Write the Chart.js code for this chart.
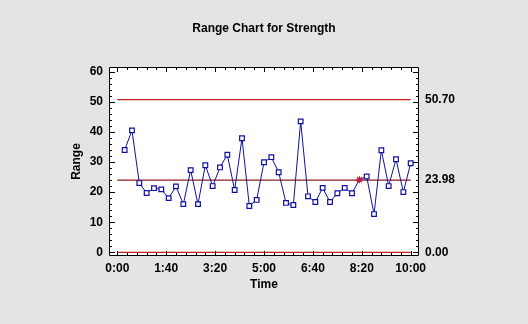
<!DOCTYPE html>
<html>
<head>
<meta charset="utf-8">
<script src="https://cdn.jsdelivr.net/npm/chart.js@4/dist/chart.umd.min.js"></script>
<style>
    html, body { margin: 0; padding: 0; background: #e4e4e4; }
    #wrap { width: 528px; height: 324px; }
</style>
</head>
<body>
<div id="wrap"><canvas id="rangeChart" width="528" height="324"></canvas></div>
<script>
// Sample times, in minutes after start
var times = [15, 30, 45, 60, 75, 90, 105, 120, 135, 150,
             165, 180, 195, 210, 225, 240, 255, 270, 285, 300,
             315, 330, 345, 360, 375, 390, 405, 420, 435, 450,
             465, 480, 495, 510, 525, 540, 555, 570, 585, 600];

// Subgroup ranges
var ranges = [34.0, 40.5, 23.0, 19.7, 21.3, 20.9, 18.0, 21.9, 16.0, 27.3,
              16.0, 28.9, 22.0, 28.2, 32.4, 20.7, 37.9, 15.4, 17.4, 29.9,
              31.6, 26.6, 16.4, 15.7, 43.5, 18.6, 16.7, 21.4, 16.7, 19.6,
              21.4, 19.6, 24.1, 25.2, 12.7, 33.9, 22.0, 30.9, 20.0, 29.6];

// Points flagged with a star marker (0-based index)
var flaggedPoints = [32];

// Control limits
var ucl = 50.70;
var centerLine = 23.98;
var lcl = 0.00;
var limitStart = 0;
var limitEnd = 600;

// Axis ticks
var xTicks = [0, 100, 200, 300, 400, 500, 600];
var yTicks = [0, 10, 20, 30, 40, 50, 60];

var boldFont = { family: "'Liberation Sans', Arial, sans-serif", size: 12, weight: 'bold' };

function minutesLabel(m) {
    var h = Math.floor(m / 60);
    var mm = m % 60;
    return h + ':' + (mm < 10 ? '0' : '') + mm;
}

function limitLine(value) {
    return [{ x: limitStart, y: value }, { x: limitEnd, y: value }];
}

// White plot background
var plotBackground = {
    id: 'plotBackground',
    beforeDraw: function (chart) {
        var a = chart.chartArea;
        var ctx = chart.ctx;
        ctx.save();
        ctx.fillStyle = '#ffffff';
        ctx.fillRect(a.left, a.top, a.right - a.left, a.bottom - a.top);
        ctx.restore();
    }
};

// Black frame with inward ticks on all four sides
var frameTicks = {
    id: 'frameTicks',
    afterDraw: function (chart) {
        var a = chart.chartArea;
        var ctx = chart.ctx;
        var x = chart.scales.x;
        var y = chart.scales.y;
        ctx.save();
        ctx.strokeStyle = '#000000';
        ctx.lineWidth = 1;
        ctx.beginPath();
        ctx.rect(Math.round(a.left) + 0.5, Math.round(a.top) + 0.5,
                 Math.round(a.right - a.left) - 1, Math.round(a.bottom - a.top) - 1);
        for (var v = 0; v <= 60; v += 2) {
            var py = Math.round(y.getPixelForValue(v)) + 0.5;
            var len = v % 10 === 0 ? 6 : 3;
            ctx.moveTo(a.left, py); ctx.lineTo(a.left + len, py);
            ctx.moveTo(a.right, py); ctx.lineTo(a.right - len, py);
        }
        for (var t = 0; t <= 600; t += 20) {
            var px = Math.round(x.getPixelForValue(t)) + 0.5;
            var tl = t % 100 === 0 ? 5 : 3;
            ctx.moveTo(px, a.bottom); ctx.lineTo(px, a.bottom - tl);
            ctx.moveTo(px, a.top); ctx.lineTo(px, a.top + tl);
        }
        ctx.stroke();
        ctx.restore();
    }
};

var noGrid = { display: false, drawTicks: false };

var ctx = document.getElementById('rangeChart').getContext('2d');
new Chart(ctx, {
    type: 'line',
    data: {
        datasets: [
            {
                label: 'Range',
                data: times.map(function (t, i) { return { x: t, y: ranges[i] }; }),
                borderColor: '#1010a0',
                borderWidth: 1,
                tension: 0,
                pointStyle: function (c) { return flaggedPoints.indexOf(c.dataIndex) >= 0 ? 'star' : 'rect'; },
                pointRadius: function (c) { return flaggedPoints.indexOf(c.dataIndex) >= 0 ? 3.5 : 3.3; },
                pointBorderColor: function (c) { return flaggedPoints.indexOf(c.dataIndex) >= 0 ? '#c01840' : '#1010a0'; },
                pointBackgroundColor: '#ffffff',
                pointBorderWidth: 1.2
            },
            {
                label: 'UCL',
                data: limitLine(ucl),
                borderColor: '#c02020',
                borderWidth: 1.3,
                pointRadius: 0
            },
            {
                label: 'CL',
                data: limitLine(centerLine),
                borderColor: '#8c1c1c',
                borderWidth: 1.3,
                pointRadius: 0
            },
            {
                label: 'LCL',
                data: limitLine(lcl),
                borderColor: '#c02020',
                borderWidth: 1.3,
                pointRadius: 0
            }
        ]
    },
    options: {
        responsive: false,
        animation: false,
        layout: { padding: { left: 0, right: 0, top: 0, bottom: 28 } },
        plugins: {
            legend: { display: false },
            tooltip: { enabled: false },
            title: {
                display: true,
                text: 'Range Chart for Strength',
                color: '#000000',
                font: boldFont,
                padding: { top: 21, bottom: 31.6 }
            }
        },
        scales: {
            x: {
                type: 'linear',
                min: -17,
                max: 617,
                afterBuildTicks: function (axis) {
                    axis.ticks = xTicks.map(function (v) { return { value: v }; });
                },
                afterFit: function (scale) { scale.height = 40; },
                grid: noGrid,
                border: { display: false },
                ticks: {
                    color: '#000000',
                    font: boldFont,
                    padding: 5,
                    maxRotation: 0,
                    autoSkip: false,
                    callback: function (v) { return minutesLabel(v); }
                },
                title: {
                    display: true,
                    text: 'Time',
                    color: '#000000',
                    font: boldFont,
                    padding: { top: 0, bottom: 4.5 }
                }
            },
            y: {
                position: 'left',
                min: -1.23,
                max: 61.56,
                afterBuildTicks: function (axis) {
                    axis.ticks = yTicks.map(function (v) { return { value: v }; });
                },
                afterFit: function (scale) { scale.width = 109; },
                grid: noGrid,
                border: { display: false },
                ticks: {
                    color: '#000000',
                    font: boldFont,
                    padding: 6
                },
                title: {
                    display: true,
                    text: 'Range',
                    color: '#000000',
                    font: boldFont,
                    padding: { top: 69.5, bottom: 0 }
                }
            },
            y2: {
                position: 'right',
                min: -1.23,
                max: 61.56,
                afterBuildTicks: function (axis) {
                    axis.ticks = [lcl, centerLine, ucl].map(function (v) { return { value: v }; });
                },
                afterFit: function (scale) { scale.width = 109; },
                grid: noGrid,
                border: { display: false },
                ticks: {
                    color: '#000000',
                    font: boldFont,
                    padding: 6,
                    autoSkip: false,
                    callback: function (v) { return Number(v).toFixed(2); }
                }
            }
        }
    },
    plugins: [plotBackground, frameTicks]
});
</script>
</body>
</html>
